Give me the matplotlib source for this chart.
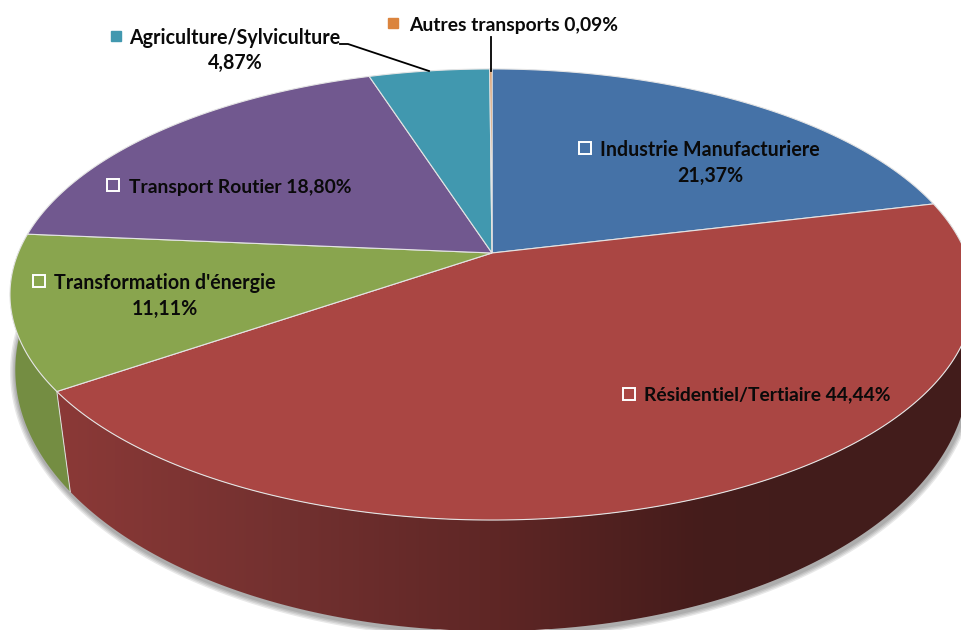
import numpy as np
import matplotlib
matplotlib.use("Agg")
import matplotlib.pyplot as plt
from matplotlib.patches import Polygon

plt.rcParams['font.family'] = ['Lato', 'DejaVu Sans']

# Parts en pourcent, dans le sens horaire depuis le haut
noms = ["Industrie Manufacturiere", "Résidentiel/Tertiaire", "Transformation d'énergie",
        "Transport Routier", "Agriculture/Sylviculture", "Autres transports"]
parts = [21.37, 44.44, 11.11, 18.80, 4.87, 0.09]
couleurs = ["#4572A7", "#AA4643", "#89A54E", "#71588F", "#4198AF", "#DB843D"]


# Perspective du disque du haut et du disque du bas (en pixels de l'image)
def projette(theta, cy, a, b, k, cx=492):
    X = np.sin(theta)
    Y = np.cos(theta)
    d = 1 + k * Y
    return cx + b * X / d, cy - a * Y / d


def haut(theta):
    return projette(theta, 253, 217.9, 473.8, 0.184)


def bas(theta):
    return projette(theta, 333.5, 255.9, 472, 0.14, cx=492)


def pct(v):
    return f"{v:.2f}".replace(".", ",") + "%"


fig = plt.figure(figsize=(9.61, 6.3), dpi=100)
ax = fig.add_axes([0, 0, 1, 1])

fractions = np.array(parts) / sum(parts)
bords = np.concatenate([[0], np.cumsum(fractions)]) * 2 * np.pi

# ombre sous le disque du bas
t = np.linspace(0, 2 * np.pi, 500)
xb, yb = bas(t)
for lw in [9, 7, 5, 3]:
    ax.plot(xb + 1, yb + 2, color="#000000", alpha=0.09, lw=lw, zorder=1)

# flanc rouge : degrade horizontal decoupe par le contour du flanc
x_deg = [60, 300, 500, 700, 800, 961]
r_deg = np.array([[0.545, 0.224, 0.216], [0.443, 0.188, 0.184], [0.369, 0.149, 0.145],
                  [0.271, 0.110, 0.106], [0.259, 0.110, 0.106], [0.259, 0.110, 0.106]])
xs = np.arange(961) + 0.5
degrade = np.stack([np.interp(xs, x_deg, r_deg[:, c]) for c in range(3)], axis=1)[np.newaxis, :, :]

t = np.linspace(bords[1], bords[2], 400)
x1, y1 = haut(t)
x2, y2 = bas(t)
contour = Polygon(np.c_[np.r_[x1, x2[::-1]], np.r_[y1, y2[::-1]]], transform=ax.transData)
img = ax.imshow(degrade, extent=(0, 961, 630, 0), aspect="auto", zorder=2, interpolation="bilinear")
img.set_clip_path(contour)

# flanc vert
t = np.linspace(bords[2], bords[3], 200)
x1, y1 = haut(t)
x2, y2 = bas(t)
ax.fill(np.r_[x1, x2[::-1]], np.r_[y1, y2[::-1]], color="#748D42", lw=0, zorder=2)

# separation rouge / vert sur le flanc
xa, ya = haut(bords[2])
xc, yc = bas(bords[2])
ax.plot([xa, xc], [ya, yc], color="#dfdfdf", lw=0.7, zorder=3)

# dessus du camembert
for i in range(len(parts)):
    t = np.linspace(bords[i], bords[i + 1], 200)
    x1, y1 = haut(t)
    ax.fill(np.r_[492, x1], np.r_[253, y1], facecolor=couleurs[i], edgecolor="#e4e4e4", lw=0.8, zorder=4)

# etiquettes
style = dict(fontsize=14.1, fontweight="bold", color="#0a0a0a", va="center", zorder=6)
style2 = dict(style, fontsize=13.85)

ax.text(710, 150, noms[0], ha="center", **style)
ax.text(710, 176, pct(parts[0]), ha="center", **style)
ax.text(644, 395, noms[1] + " " + pct(parts[1]), ha="left", **style2)
ax.text(165, 283, noms[2], ha="center", **style)
ax.text(165, 309, pct(parts[2]), ha="center", **style)
ax.text(129, 188, noms[3] + " " + pct(parts[3]), ha="left", **style2)
ax.text(235, 38, noms[4], ha="center", **style)
ax.text(235, 63, pct(parts[4]), ha="center", **style)
ax.text(409, 26, noms[5] + " " + pct(parts[5]), ha="left", **style2)

# petits carres de legende
for x, y in [(585, 148), (629, 394), (39, 281), (113, 185)]:
    ax.plot(x, y, "s", ms=8, mfc="none", mec="white", mew=1.4, zorder=6)
ax.plot(116, 36, "s", ms=7.5, color=couleurs[4], zorder=6)
ax.plot(393, 23, "s", ms=7.5, color=couleurs[5], zorder=6)

# traits de rappel
ax.plot([340, 348, 429], [44, 44, 71], color="black", lw=1.3, zorder=6)
ax.plot([491, 491], [37, 71], color="black", lw=1.3, zorder=6)

ax.set_xlim(0, 961)
ax.set_ylim(630, 0)
ax.axis("off")

fig.savefig("out.png", dpi=100, facecolor="white")
